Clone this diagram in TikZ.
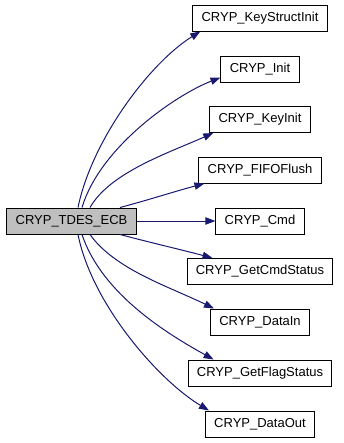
\documentclass[tikz,border=0pt]{standalone}
\usepackage{fontspec}
\setmainfont{Liberation Sans}
\usetikzlibrary{arrows.meta,calc}
\definecolor{edgeblue}{HTML}{191970}
\definecolor{mainfill}{HTML}{BFBFBF}
\tikzset{
  fn/.style={draw=black, fill=white, line width=0.75pt, inner xsep=6.6pt,
    minimum height=19.5pt, font=\fontsize{9.75pt}{11pt}\selectfont, text=black},
  mainfn/.style={fn, fill=mainfill},
  call/.style={draw=edgeblue, line width=0.75pt,
    -{Triangle[length=7.5pt,width=5.5pt,fill=edgeblue]}},
}
\begin{document}
\begin{tikzpicture}[x=0.75pt,y=-0.75pt]
  \useasboundingbox (0,0) rectangle (343,443);

  % caller
  \node[mainfn] (main) at (71.5,221) {CRYP\_TDES\_ECB};

  % callees
  \node[fn] (ksi)  at (260,18)    {CRYP\_KeyStructInit};
  \node[fn] (init) at (260,69)    {CRYP\_Init};
  \node[fn] (ki)   at (260,119.5) {CRYP\_KeyInit};
  \node[fn] (ff)   at (260,170)   {CRYP\_FIFOFlush};
  \node[fn] (cmd)  at (260,221)   {CRYP\_Cmd};
  \node[fn] (gcs)  at (260,271.5) {CRYP\_GetCmdStatus};
  \node[fn] (din)  at (260,322)   {CRYP\_DataIn};
  \node[fn] (gfs)  at (260,373)   {CRYP\_GetFlagStatus};
  \node[fn] (dout) at (260,424)   {CRYP\_DataOut};

  % calls
  \draw[call] ($(main.north)+(6.5,0)$) .. controls +(14,-68) and +(-50,31) .. ($(ksi.south west)+(8,0)$);
  \draw[call] ($(main.north)+(10.5,0)$) .. controls +(18,-60) and +(-46,18) .. ($(init.south west)+(0,-5)$);
  \draw[call] ($(main.north)+(18.5,0)$) .. controls +(20,-35) and +(-45,20) .. ($(ki.south west)+(4,0)$);
  \draw[call] ($(main.north)+(48.5,0)$) .. controls +(30,-8) and +(-30,8) .. ($(ff.south west)+(6,0)$);
  \draw[call] (main.east) -- (cmd.west);
  \draw[call] ($(main.south)+(48.5,0)$) .. controls +(30,8) and +(-30,-8) .. ($(gcs.north west)+(26,0)$);
  \draw[call] ($(main.south)+(18.5,0)$) .. controls +(25,35) and +(-45,-22) .. ($(din.north west)+(4,0)$);
  \draw[call] ($(main.south)+(10.5,0)$) .. controls +(20,60) and +(-45,-25) .. ($(gfs.north west)+(26,0)$);
  \draw[call] ($(main.south)+(6.5,0)$) .. controls +(14,70) and +(-50,-30) .. ($(dout.north west)+(4,0)$);
\end{tikzpicture}
\end{document}
